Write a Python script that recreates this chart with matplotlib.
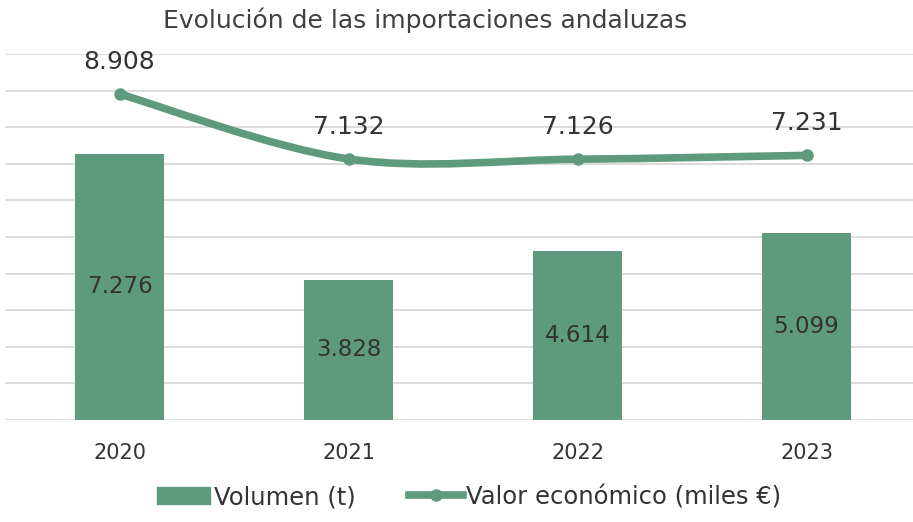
import numpy as np
import matplotlib.pyplot as plt
from matplotlib.path import Path
from matplotlib.patches import PathPatch
from matplotlib.lines import Line2D
from matplotlib.patches import Patch

years = ["2020", "2021", "2022", "2023"]
volumen = [7276, 3828, 4614, 5099]
valor = [8908, 7132, 7126, 7231]

green = "#5e9b7e"
plt.rcParams["font.family"] = ["DejaVu Sans"]

fig = plt.figure(figsize=(9.13, 5.22), dpi=100)
W, H = 913, 522
ax = fig.add_axes([5 / W, 102 / H, 916 / W, 366 / H])

x = np.arange(len(years))
ax.bar(x, volumen, width=0.39, color=green, zorder=2)

# smoothed line (Catmull-Rom -> cubic bezier), like Excel's smooth line
verts = [(x[0], valor[0])]
codes = [Path.MOVETO]
pts = list(zip(x, valor))
for i in range(len(pts) - 1):
    p0 = pts[i - 1] if i > 0 else pts[i]
    p1 = pts[i]
    p2 = pts[i + 1]
    p3 = pts[i + 2] if i + 2 < len(pts) else pts[i + 1]
    c1 = (p1[0] + (p2[0] - p0[0]) / 6, p1[1] + (p2[1] - p0[1]) / 6)
    c2 = (p2[0] - (p3[0] - p1[0]) / 6, p2[1] - (p3[1] - p1[1]) / 6)
    verts += [c1, c2, p2]
    codes += [Path.CURVE4] * 3
ax.add_patch(PathPatch(Path(verts, codes), facecolor="none", edgecolor=green,
                       lw=5.5, capstyle="round", zorder=3))
ax.plot(x, valor, "o", color=green, ms=8, zorder=4)

def fmt(v):
    return f"{v:,}".replace(",", ".")

for xi, v in zip(x, volumen):
    ax.text(xi, v / 2, fmt(v), ha="center", va="center", fontsize=16.5,
            color="#333333", zorder=5)
for xi, v in zip(x, valor):
    ax.annotate(fmt(v), (xi, v), xytext=(0, 23), textcoords="offset points",
                ha="center", va="center", fontsize=18, color="#333333", zorder=5)

ax.set_xlim(-0.5, 3.5)
ax.set_ylim(0, 10000)
ax.set_yticks(np.arange(0, 10001, 1000))
ax.yaxis.grid(True, color="#d9d9d9", lw=1.3, zorder=0)
ax.set_axisbelow(True)
ax.tick_params(left=False, bottom=False, labelleft=False)
ax.set_xticks(x)
ax.set_xticklabels(years, fontsize=15, color="#333333")
ax.tick_params(axis="x", pad=13)
for s in ax.spines.values():
    s.set_visible(False)

fig.text(425 / W, 1 - 20 / H, "Evolución de las importaciones andaluzas",
         ha="center", va="center", fontsize=18, color="#404040")

handles = [Patch(color=green),
           Line2D([0], [0], color=green, lw=5.5, marker="o", ms=8)]
fig.legend(handles, ["Volumen (t)", "Valor económico (miles €)"],
           loc="center", bbox_to_anchor=(469 / W, 1 - 497 / H), ncol=2,
           frameon=False, fontsize=17.5, handlelength=2.2, columnspacing=2.2,
           handletextpad=0.15, labelcolor="#333333")

fig.savefig("out.png", dpi=100)
